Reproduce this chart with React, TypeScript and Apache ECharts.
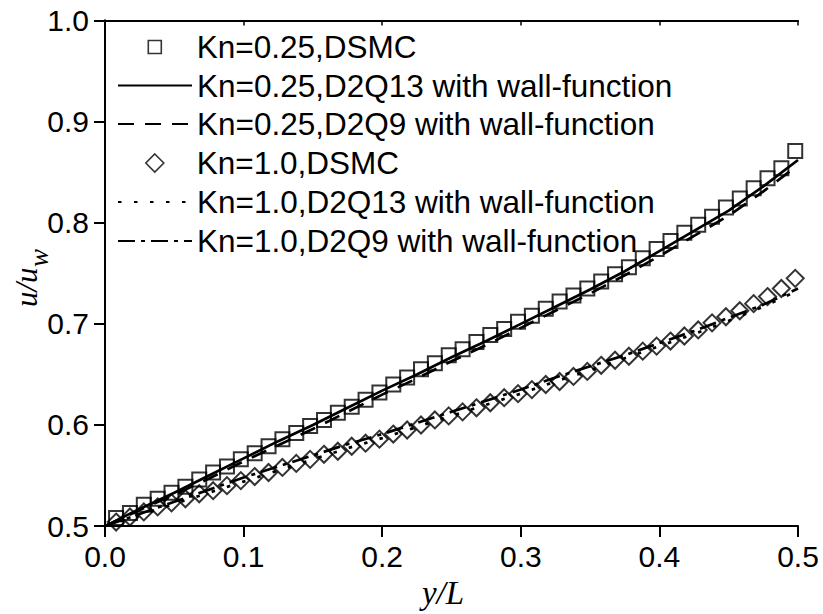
import React, { useEffect, useRef } from "react";
import * as echarts from "echarts";

// ---- data ----
const DSMC_X = [
  0.008, 0.018, 0.028, 0.038, 0.048, 0.058, 0.068, 0.078, 0.088, 0.098,
  0.108, 0.118, 0.128, 0.138, 0.148, 0.158, 0.168, 0.178, 0.188, 0.198,
  0.208, 0.218, 0.228, 0.238, 0.248, 0.258, 0.268, 0.278, 0.288, 0.298,
  0.308, 0.318, 0.328, 0.338, 0.348, 0.358, 0.368, 0.378, 0.388, 0.398,
  0.408, 0.418, 0.428, 0.438, 0.448, 0.458, 0.468, 0.478, 0.488, 0.498,
];
const KN025_DSMC = [
  0.508, 0.513, 0.521, 0.527, 0.533, 0.539, 0.546, 0.553, 0.559, 0.566,
  0.572, 0.579, 0.586, 0.592, 0.599, 0.605, 0.612, 0.618, 0.625, 0.632,
  0.640, 0.647, 0.655, 0.661, 0.669, 0.675, 0.682, 0.689, 0.695, 0.702,
  0.708, 0.715, 0.722, 0.728, 0.735, 0.742, 0.749, 0.756, 0.765, 0.774,
  0.782, 0.790, 0.798, 0.806, 0.815, 0.824, 0.834, 0.844, 0.854, 0.871,
];
const KN10_DSMC = [
  0.504, 0.509, 0.514, 0.519, 0.523, 0.527, 0.532, 0.535, 0.540, 0.545,
  0.549, 0.553, 0.558, 0.562, 0.566, 0.571, 0.574, 0.579, 0.582, 0.586,
  0.591, 0.595, 0.600, 0.605, 0.609, 0.613, 0.617, 0.622, 0.627, 0.631,
  0.635, 0.640, 0.643, 0.648, 0.653, 0.659, 0.664, 0.668, 0.673, 0.678,
  0.683, 0.688, 0.694, 0.701, 0.707, 0.713, 0.720, 0.727, 0.735, 0.745,
];
const LINE_X = [
  0, 0.025, 0.05, 0.075, 0.1, 0.125, 0.15, 0.175, 0.2, 0.225, 0.25,
  0.275, 0.3, 0.325, 0.35, 0.375, 0.4, 0.425, 0.45, 0.475, 0.5,
];
const KN025_D2Q13 = [
  0.5, 0.517, 0.533, 0.55, 0.567, 0.584, 0.6, 0.617, 0.634, 0.65, 0.667,
  0.683, 0.7, 0.717, 0.734, 0.752, 0.772, 0.792, 0.812, 0.836, 0.862,
];
const KN025_D2Q9 = [
  0.5, 0.516, 0.531, 0.547, 0.564, 0.58, 0.596, 0.613, 0.63, 0.646, 0.663,
  0.679, 0.696, 0.713, 0.73, 0.748, 0.767, 0.787, 0.807, 0.831, 0.857,
];
const KN10_D2Q13 = [
  0.5, 0.511, 0.522, 0.533, 0.544, 0.555, 0.566, 0.577, 0.587, 0.598, 0.609,
  0.62, 0.631, 0.643, 0.654, 0.666, 0.678, 0.69, 0.703, 0.717, 0.733,
];
const KN10_D2Q9 = [
  0.5, 0.512, 0.524, 0.536, 0.548, 0.559, 0.57, 0.581, 0.591, 0.602, 0.613,
  0.624, 0.635, 0.647, 0.658, 0.669, 0.681, 0.693, 0.706, 0.719, 0.735,
];
const X_TICK_LABELS = ["0.0", "0.1", "0.2", "0.3", "0.4", "0.5"];
const Y_TICK_LABELS = ["0.5", "0.6", "0.7", "0.8", "0.9", "1.0"];
const NAMES = [
  "Kn=0.25,DSMC",
  "Kn=0.25,D2Q13 with wall-function",
  "Kn=0.25,D2Q9 with wall-function",
  "Kn=1.0,DSMC",
  "Kn=1.0,D2Q13 with wall-function",
  "Kn=1.0,D2Q9 with wall-function",
];

const SANS = "'Liberation Sans', Arial, sans-serif";
const SERIF = "'Liberation Serif', 'Times New Roman', serif";

const SQUARE_ICON = "path://M0,0L10,0L10,10L0,10Z";
const DIAMOND_ICON = "path://M5,0L10,5L5,10L0,5Z";

const pairs = (xs: number[], ys: number[]) => xs.map((x, i) => [x, ys[i]]);

export default function App() {
  const ref = useRef<HTMLDivElement>(null);

  useEffect(() => {
    if (!ref.current) return;
    const chart = echarts.init(ref.current, undefined, { renderer: "svg" });

    const gridL = 105, gridR = 25, gridT = 20.5, gridB = 78.5;
    const legendLeft = 117;
    const legendIconW = 74;
    const rowCenters = [46, 84.5, 123, 162, 201, 240];
    const iconH = [13, 14, 14, 18, 14, 14];
    const icons: (string | undefined)[] = [SQUARE_ICON, undefined, undefined, DIAMOND_ICON, undefined, undefined];

    const axisLine = { show: true, lineStyle: { color: "#000", width: 2 } };

    const lineSeries = (name: string, ys: number[], type: any) => ({
      name,
      type: "line",
      data: pairs(LINE_X, ys),
      symbol: "none",
      showSymbol: false,
      xAxisIndex: 0,
      yAxisIndex: 0,
      z: 3,
      lineStyle: { color: "#000", width: 2.7, type },
      itemStyle: { color: "#000" },
    });

    const option: any = {
      animation: false,
      backgroundColor: "#fff",
      grid: { left: gridL, right: gridR, top: gridT, bottom: gridB, containLabel: false },
      xAxis: [
        {
          type: "value",
          min: 0,
          max: 0.5,
          interval: 0.1,
          position: "bottom",
          axisLine,
          axisTick: { show: true, inside: false, length: 11, lineStyle: { color: "#000", width: 2 } },
          axisLabel: {
            color: "#000",
            fontSize: 30,
            fontFamily: SANS,
            margin: 15,
            formatter: (_v: number, i: number) => X_TICK_LABELS[i],
          },
          splitLine: { show: false },
          name: "y/L",
          nameLocation: "middle",
          nameGap: 39,
          nameTextStyle: {
            fontFamily: SERIF,
            fontStyle: "italic",
            fontSize: 33,
            color: "#000",
            padding: [0, 17, 0, 0],
          },
        },
        {
          type: "value",
          min: 0,
          max: 0.5,
          interval: 0.1,
          position: "top",
          axisLine,
          axisTick: { show: true, inside: true, length: 5, lineStyle: { color: "#000", width: 1.5 } },
          axisLabel: { show: false },
          splitLine: { show: false },
        },
      ],
      yAxis: [
        {
          type: "value",
          min: 0.5,
          max: 1.0,
          interval: 0.1,
          position: "left",
          axisLine,
          axisTick: { show: true, inside: false, length: 11, lineStyle: { color: "#000", width: 2 } },
          axisLabel: {
            color: "#000",
            fontSize: 30,
            fontFamily: SANS,
            margin: 16,
            formatter: (_v: number, i: number) => Y_TICK_LABELS[i],
          },
          splitLine: { show: false },
        },
        {
          type: "value",
          min: 0.5,
          max: 1.0,
          interval: 0.1,
          position: "right",
          axisLine,
          axisTick: { show: true, inside: true, length: 5, lineStyle: { color: "#000", width: 1.5 } },
          axisLabel: { show: false },
          splitLine: { show: false },
        },
      ],
      legend: NAMES.map((name, i) => {
        const isScatter = !!icons[i];
        return {
          data: [isScatter ? { name, icon: icons[i] } : { name }],
          orient: "vertical",
          // a path icon is drawn centred in the item box; the legend is
          // aligned on its visible bounds, so shift by the empty margin
          left: isScatter ? legendLeft + (legendIconW - iconH[i]) / 2 : legendLeft,
          top: rowCenters[i] - 15,
          padding: 0,
          itemWidth: legendIconW,
          itemHeight: iconH[i],
          symbolKeepAspect: true,
          selectedMode: false,
          textStyle: { fontSize: 31.5, lineHeight: 30, color: "#000", fontFamily: SANS },
          itemStyle: isScatter
            ? { color: "#fff", borderColor: "#000", borderWidth: 1.6 }
            : { opacity: 0 },
        };
      }),
      graphic: [
        {
          type: "group",
          x: 26,
          y: 307,
          rotation: Math.PI / 2,
          children: [
            {
              type: "text",
              x: 0,
              y: 0,
              style: {
                text: "u/u",
                fontFamily: SERIF,
                fontStyle: "italic",
                fontSize: 31,
                fill: "#000",
                align: "left",
                verticalAlign: "middle",
              },
            },
            {
              type: "text",
              x: 40,
              y: 13,
              style: {
                text: "w",
                fontFamily: SERIF,
                fontStyle: "italic",
                fontSize: 27,
                fill: "#000",
                align: "left",
                verticalAlign: "middle",
              },
            },
          ],
        },
      ],
      series: [
        {
          name: NAMES[0],
          type: "scatter",
          data: pairs(DSMC_X, KN025_DSMC),
          symbol: "rect",
          symbolSize: 14,
          z: 2,
          itemStyle: { color: "rgba(0,0,0,0)", borderColor: "#000", borderWidth: 2 },
        },
        {
          name: NAMES[3],
          type: "scatter",
          data: pairs(DSMC_X, KN10_DSMC),
          symbol: "diamond",
          symbolSize: 17,
          z: 2,
          itemStyle: { color: "rgba(0,0,0,0)", borderColor: "#000", borderWidth: 2 },
        },
        lineSeries(NAMES[1], KN025_D2Q13, "solid"),
        lineSeries(NAMES[2], KN025_D2Q9, [16, 11]),
        lineSeries(NAMES[4], KN10_D2Q13, [3.5, 12.5]),
        lineSeries(NAMES[5], KN10_D2Q9, [17, 6, 4, 6]),
      ],
    };

    chart.setOption(option);
    return () => chart.dispose();
  }, []);

  return (
    <div
      ref={ref}
      style={{ position: "fixed", left: 0, top: 0, width: 823, height: 614, background: "#fff" }}
    />
  );
}
